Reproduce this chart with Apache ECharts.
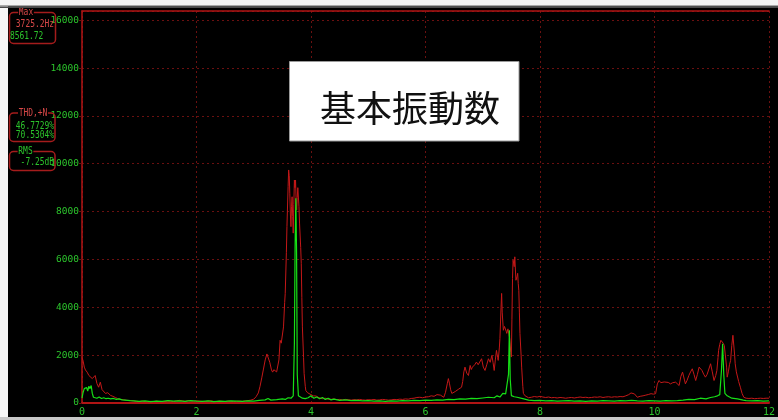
<!DOCTYPE html>
<html><head><meta charset="utf-8">
<script src="https://cdn.jsdelivr.net/npm/echarts@6/dist/echarts.min.js"></script>
<style>html,body{margin:0;padding:0;background:#000}#c{width:778px;height:420px}</style>
</head><body><div id="c"></div>
<script>
// Frequency (kHz) / amplitude pairs
const redSpectrum = [
[0.00,1900],[0.02,1750],[0.04,1500],[0.06,1380],[0.09,1290],[0.12,1150],[0.15,1230],[0.18,1020],[0.20,940],[0.23,1150],
[0.26,820],[0.29,660],[0.32,870],[0.35,560],[0.38,520],[0.41,400],[0.45,430],[0.50,315],[0.54,280],[0.58,230],
[0.62,190],[0.67,150],[0.72,140],[0.78,110],[0.84,100],[0.90,90],[0.95,70],[1.00,60],[1.05,80],[1.10,60],
[1.15,50],[1.20,70],[1.25,60],[1.30,80],[1.35,60],[1.40,50],[1.45,60],[1.50,80],[1.55,70],[1.60,60],
[1.65,90],[1.70,110],[1.75,90],[1.80,70],[1.85,100],[1.90,80],[1.95,70],[2.00,90],[2.05,80],[2.10,70],
[2.15,60],[2.20,80],[2.25,90],[2.30,70],[2.35,60],[2.40,80],[2.45,70],[2.50,60],[2.55,80],[2.60,70],
[2.65,60],[2.70,70],[2.75,80],[2.80,70],[2.85,90],[2.90,100],[2.95,120],[3.00,160],[3.04,260],[3.08,420],
[3.11,700],[3.14,1050],[3.17,1420],[3.20,1800],[3.23,2050],[3.25,2070],[3.28,1700],[3.31,1380],[3.33,1290],[3.35,1390],
[3.37,1440],[3.40,1300],[3.42,1240],[3.44,1800],[3.46,2620],[3.48,2500],[3.50,2550],[3.52,3180],[3.54,4200],[3.55,4580],
[3.57,6300],[3.58,7370],[3.60,9040],[3.61,9740],[3.62,9500],[3.63,8770],[3.64,7900],[3.65,7370],[3.66,8200],[3.67,8620],
[3.68,7800],[3.69,7100],[3.70,8300],[3.71,9320],[3.72,9000],[3.73,9320],[3.74,8500],[3.75,8070],[3.76,8600],[3.77,9000],
[3.78,9040],[3.79,8200],[3.80,7520],[3.82,6500],[3.83,5840],[3.84,4400],[3.85,3180],[3.87,1900],[3.88,1240],[3.90,700],
[3.91,520],[3.94,430],[3.97,400],[4.00,350],[4.04,300],[4.09,290],[4.14,220],[4.20,180],[4.25,200],[4.30,160],
[4.35,150],[4.40,170],[4.45,140],[4.50,150],[4.55,130],[4.60,150],[4.65,140],[4.70,120],[4.75,140],[4.80,130],
[4.85,150],[4.90,130],[4.95,120],[5.00,140],[5.05,130],[5.10,150],[5.15,120],[5.20,130],[5.25,150],[5.30,140],
[5.35,120],[5.40,130],[5.45,150],[5.50,140],[5.55,160],[5.60,150],[5.65,170],[5.70,160],[5.75,190],[5.80,200],
[5.85,230],[5.90,240],[5.95,220],[6.00,250],[6.05,260],[6.10,300],[6.15,280],[6.20,350],[6.23,400],[6.26,330],
[6.29,280],[6.32,240],[6.35,450],[6.38,800],[6.40,1020],[6.42,800],[6.44,550],[6.46,400],[6.49,450],[6.52,480],
[6.55,520],[6.58,580],[6.60,620],[6.63,660],[6.65,900],[6.67,1300],[6.69,1500],[6.72,1250],[6.75,1150],[6.78,1570],
[6.80,1400],[6.82,1500],[6.84,1440],[6.86,1600],[6.89,1710],[6.92,1600],[6.95,1570],[6.98,1850],[7.01,1500],[7.04,1360],
[7.07,1600],[7.10,1850],[7.13,1700],[7.16,1990],[7.18,1700],[7.20,1360],[7.22,1800],[7.24,2200],[7.26,1900],[7.27,1780],
[7.29,2300],[7.30,2690],[7.32,4000],[7.33,4580],[7.34,3800],[7.36,3040],[7.38,3200],[7.39,3250],[7.41,3000],[7.42,2910],
[7.44,3100],[7.45,3040],[7.47,2700],[7.49,2100],[7.50,1920],[7.51,3500],[7.52,5200],[7.53,5970],[7.55,5700],[7.56,6110],
[7.57,5600],[7.58,5130],[7.60,5300],[7.61,5420],[7.62,5000],[7.63,4710],[7.64,3800],[7.65,2910],[7.67,2000],[7.68,1500],
[7.70,700],[7.71,400],[7.74,300],[7.77,240],[7.80,220],[7.85,240],[7.90,270],[7.95,250],[8.00,280],[8.05,250],
[8.10,230],[8.15,250],[8.20,220],[8.25,230],[8.30,210],[8.35,230],[8.40,220],[8.45,200],[8.50,220],[8.55,230],
[8.60,210],[8.65,230],[8.70,250],[8.75,230],[8.80,240],[8.85,220],[8.90,230],[8.95,250],[9.00,240],[9.05,260],
[9.10,230],[9.15,250],[9.20,260],[9.25,240],[9.30,260],[9.35,250],[9.40,270],[9.45,260],[9.50,300],[9.55,350],
[9.59,420],[9.62,450],[9.65,380],[9.70,240],[9.75,280],[9.80,300],[9.85,330],[9.90,360],[9.94,390],[9.98,370],
[10.02,390],[10.05,800],[10.08,940],[10.11,850],[10.14,800],[10.17,880],[10.20,940],[10.24,860],[10.28,800],[10.32,850],
[10.37,870],[10.40,800],[10.43,730],[10.46,1100],[10.49,1290],[10.52,1000],[10.54,800],[10.57,950],[10.60,1150],[10.63,1300],
[10.66,1430],[10.69,1200],[10.72,940],[10.75,1200],[10.78,1500],[10.80,1500],[10.83,1360],[10.86,1200],[10.89,1080],[10.92,1200],
[10.95,1220],[10.98,1640],[11.01,1300],[11.04,940],[11.07,1150],[11.09,1360],[11.11,1900],[11.12,2200],[11.14,2450],[11.16,2620],
[11.18,2620],[11.20,2500],[11.22,2400],[11.24,2340],[11.26,1500],[11.27,1080],[11.29,1300],[11.31,1600],[11.33,1780],[11.35,2400],
[11.37,2830],[11.38,2800],[11.40,2000],[11.41,1640],[11.43,1300],[11.44,1220],[11.47,900],[11.50,660],[11.53,400],[11.56,240],
[11.60,200],[11.65,190],[11.70,200],[11.75,180],[11.80,190],[11.85,200],[11.90,190],[11.95,200],[12.00,200]
];
const greenSpectrum = [
[0.00,200],[0.02,450],[0.04,600],[0.06,520],[0.08,650],[0.10,500],[0.12,700],[0.14,600],[0.16,730],[0.18,400],
[0.20,240],[0.23,300],[0.26,200],[0.30,250],[0.34,190],[0.38,220],[0.42,180],[0.46,200],[0.50,170],[0.55,190],
[0.60,150],[0.65,170],[0.70,130],[0.75,120],[0.80,110],[0.84,100],[0.90,90],[1.00,70],[1.10,90],[1.20,60],
[1.30,80],[1.40,70],[1.50,100],[1.60,80],[1.70,90],[1.80,70],[1.90,100],[2.00,80],[2.10,70],[2.20,90],
[2.30,60],[2.40,80],[2.50,70],[2.60,90],[2.70,80],[2.80,70],[2.90,90],[3.00,80],[3.10,110],[3.20,130],
[3.25,190],[3.30,120],[3.40,140],[3.50,170],[3.55,150],[3.60,220],[3.65,200],[3.69,300],[3.71,2500],[3.722,6500],
[3.735,8562],[3.748,6300],[3.76,1200],[3.78,300],[3.80,250],[3.85,200],[3.90,180],[3.95,220],[4.00,300],[4.05,200],
[4.10,250],[4.15,180],[4.20,230],[4.25,150],[4.30,200],[4.35,130],[4.40,160],[4.50,110],[4.60,130],[4.70,100],
[4.80,110],[4.90,90],[5.00,100],[5.10,80],[5.20,90],[5.30,70],[5.40,90],[5.50,80],[5.60,100],[5.70,90],
[5.80,110],[5.90,100],[6.00,120],[6.10,110],[6.20,130],[6.30,120],[6.40,150],[6.50,140],[6.60,170],[6.70,160],
[6.80,190],[6.90,180],[7.00,210],[7.10,240],[7.20,220],[7.25,300],[7.30,250],[7.35,400],[7.40,380],[7.43,450],
[7.45,1200],[7.465,3040],[7.48,1000],[7.50,310],[7.55,260],[7.60,240],[7.70,180],[7.80,120],[7.90,100],[8.00,110],
[8.10,90],[8.20,100],[8.30,80],[8.40,90],[8.50,100],[8.60,80],[8.70,90],[8.80,70],[8.90,90],[9.00,80],
[9.10,100],[9.20,90],[9.30,80],[9.40,100],[9.50,90],[9.60,110],[9.70,90],[9.80,80],[9.90,100],[10.00,90],
[10.10,80],[10.20,100],[10.30,90],[10.40,100],[10.50,120],[10.60,150],[10.70,140],[10.80,200],[10.90,170],[10.98,230],
[11.05,260],[11.10,300],[11.14,350],[11.17,1360],[11.19,2480],[11.21,1200],[11.23,400],[11.27,300],[11.35,200],[11.45,170],
[11.55,120],[11.60,100],[11.70,90],[11.80,100],[11.90,80],[12.00,90]
];
const titleText = '基本振動数';
const maxPanel = ['Max', '3725.2Hz', '8561.72'];
const thdPanel = ['THD,+N', '46.7729%', '70.5304%'];
const rmsPanel = ['RMS', '-7.25dB'];

const RED = '#a51c1c', TXTRED = '#d84848', TXTGREEN = '#2cc42c';
const monoFont = '11px "DejaVu Sans Mono"';
function label(txt, x, y, color, align, title) {
  const st = {text: txt, x: 0, y: 0, fill: color, font: monoFont, textAlign: align, textVerticalAlign: 'middle'};
  if (title) { st.backgroundColor = '#000'; st.padding = [0, 1]; }
  return {type: 'text', x: x, y: y, scaleX: 0.72, z: 20, style: st};
}
function box(x, y, w, h) {
  return {type: 'rect', z: 15, shape: {x: x, y: y, width: w, height: h, r: 4}, style: {fill: 'none', stroke: RED, lineWidth: 1.5}};
}

const chart = echarts.init(document.getElementById('c'), null, {renderer: 'canvas'});
chart.setOption({
  backgroundColor: '#000',
  animation: false,
  grid: {left: 82, right: 6, top: 11, bottom: 17},
  xAxis: [{
    type: 'value', min: 0, max: 12, interval: 2,
    axisLine: {show: true, lineStyle: {color: '#b01414', width: 2}},
    axisTick: {show: false},
    axisLabel: {color: TXTGREEN, fontFamily: 'DejaVu Sans Mono', fontSize: 10, margin: 4},
    splitLine: {show: true, lineStyle: {color: '#6a1010', type: [2, 3], width: 1}}
  }, {
    type: 'value', position: 'top', min: 0, max: 12,
    axisLine: {show: true, onZero: false, lineStyle: {color: '#b01414', width: 1.5}},
    axisTick: {show: false}, axisLabel: {show: false}, splitLine: {show: false}
  }],
  yAxis: {
    type: 'value', min: 0, max: 16384, interval: 2000,
    axisLine: {show: true, onZero: false, lineStyle: {color: '#b01414', width: 1.5}},
    axisTick: {show: true, length: 3, lineStyle: {color: '#6a1010'}},
    axisLabel: {color: TXTGREEN, fontFamily: 'DejaVu Sans Mono', fontSize: 9.5, margin: 3, showMaxLabel: false,
      formatter: function (v) { return String(v); }},
    splitLine: {show: true, lineStyle: {color: '#6a1010', type: [2, 3], width: 1}}
  },
  series: [{
    type: 'line', data: redSpectrum, showSymbol: false, symbol: 'none',
    lineStyle: {color: '#c41818', width: 1}, z: 3
  }, {
    type: 'line', data: greenSpectrum, showSymbol: false, symbol: 'none',
    lineStyle: {color: '#16e016', width: 1.2}, z: 4
  }],
  graphic: [
    {type: 'rect', z: 30, shape: {x: 0, y: 0, width: 8, height: 420}, style: {fill: '#f6f6f6'}},
    {type: 'rect', z: 30, shape: {x: 0, y: 0, width: 778, height: 5}, style: {fill: '#f4f4f4'}},
    {type: 'rect', z: 30, shape: {x: 0, y: 5, width: 778, height: 1.5}, style: {fill: '#a8a8a8'}},
    {type: 'rect', z: 30, shape: {x: 0, y: 6.5, width: 778, height: 1.5}, style: {fill: '#4a4a4a'}},
    {type: 'rect', z: 30, shape: {x: 0, y: 417, width: 778, height: 3}, style: {fill: '#c8c8c8'}},
    {type: 'rect', z: 25, shape: {x: 289.5, y: 61.5, width: 229.5, height: 79.5}, style: {fill: '#fff', stroke: '#9a9a9a', lineWidth: 1}},
    {type: 'text', z: 26, x: 320, y: 108, style: {text: titleText, fill: '#111', font: '36px "Noto Sans CJK JP"', textAlign: 'left', textVerticalAlign: 'middle'}},
    box(9.5, 12.5, 46, 31),
    label(maxPanel[0], 26, 12.5, TXTRED, 'center', true),
    label(maxPanel[1], 54, 24, TXTRED, 'right'),
    label(maxPanel[2], 10, 36, TXTGREEN, 'left'),
    box(9.5, 113, 45.5, 28.5),
    label(thdPanel[0], 33, 113, TXTRED, 'center', true),
    label(thdPanel[1], 54, 126, TXTGREEN, 'right'),
    label(thdPanel[2], 54, 135, TXTGREEN, 'right'),
    box(9.5, 151.5, 45.5, 19),
    label(rmsPanel[0], 25.5, 151.5, TXTGREEN, 'center', true),
    label(rmsPanel[1], 54, 162.5, TXTGREEN, 'right')
  ]
});
</script></body></html>
